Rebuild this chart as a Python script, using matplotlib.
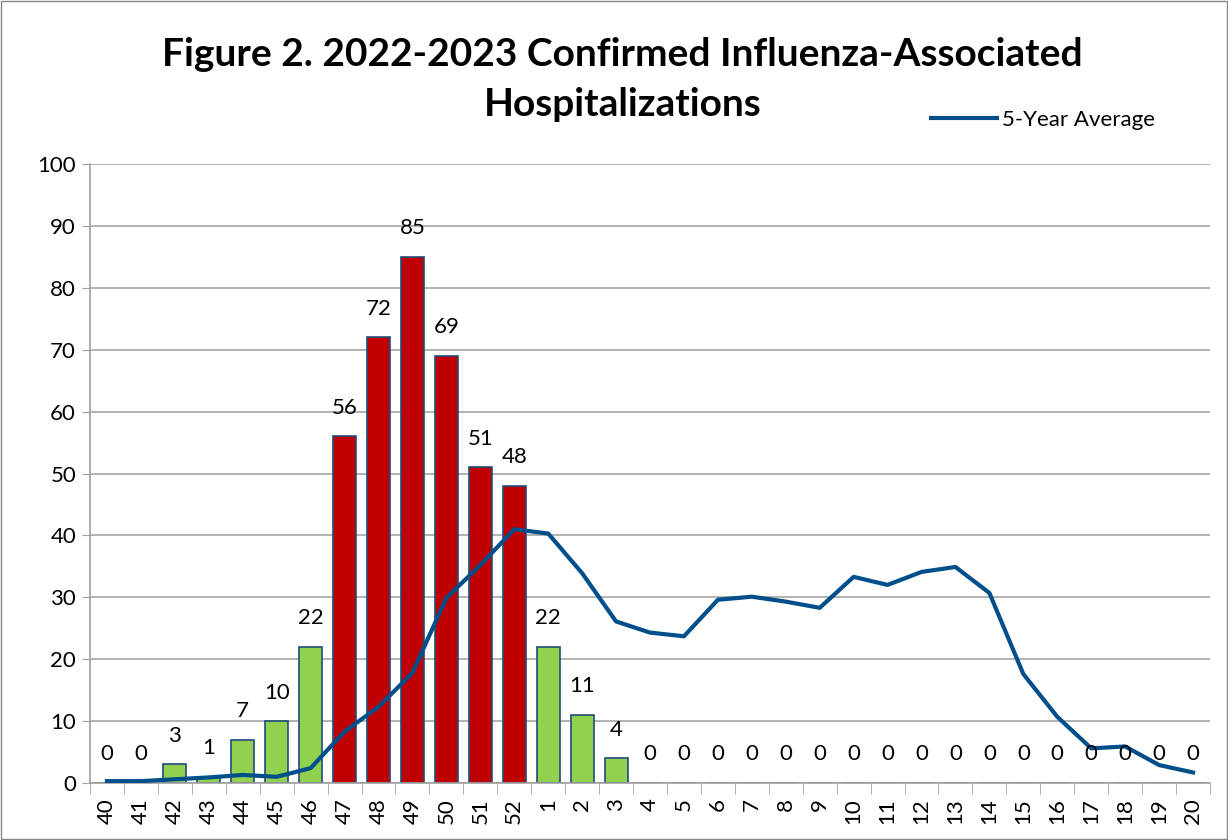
import numpy as np
import matplotlib.pyplot as plt

plt.rcParams['font.family'] = ['Lato', 'DejaVu Sans']

# Week labels and counts
weeks = ['40', '41', '42', '43', '44', '45', '46', '47', '48', '49', '50', '51', '52',
         '1', '2', '3', '4', '5', '6', '7', '8', '9', '10', '11', '12', '13', '14',
         '15', '16', '17', '18', '19', '20']
cases = [0, 0, 3, 1, 7, 10, 22, 56, 72, 85, 69, 51, 48,
         22, 11, 4, 0, 0, 0, 0, 0, 0, 0, 0, 0, 0, 0,
         0, 0, 0, 0, 0, 0]
avg5 = [0.3, 0.3, 0.6, 0.9, 1.3, 1.0, 2.4, 8.3, 12.3, 17.8, 29.9, 35.2, 41.0,
        40.3, 33.9, 26.1, 24.3, 23.7, 29.6, 30.1, 29.3, 28.3, 33.3, 32.0, 34.1, 34.9, 30.7,
        17.6, 10.7, 5.6, 5.9, 2.9, 1.7]
red_weeks = ['47', '48', '49', '50', '51', '52']

x = np.arange(len(weeks))
colors = ['#C00000' if w in red_weeks else '#92D050' for w in weeks]

fig = plt.figure(figsize=(12.28, 8.4), dpi=100)
ax = fig.add_axes([90/1228, 1 - 783/840, 1120/1228, 619/840])

ax.bar(x, cases, width=0.68, color=colors, edgecolor='#1F4E79', linewidth=1.2, zorder=2)
line, = ax.plot(x, avg5, color='#004F8B', lw=3, zorder=3, label='5-Year Average')

for xi, v in zip(x, cases):
    ax.text(xi, v + 3.0, str(v), ha='center', va='bottom', fontsize=16, zorder=4)

ax.set_xlim(-0.5, len(weeks) - 0.5)
ax.set_ylim(0, 100)
ax.set_yticks(np.arange(0, 101, 10))
ax.tick_params(axis='y', labelsize=16, length=6, color='#A0A0A0', pad=4)
ax.set_xticks(x)
ax.set_xticklabels(weeks, rotation=90, fontsize=16)
ax.tick_params(axis='x', which='major', length=0, pad=11)
ax.set_xticks(np.arange(-0.5, len(weeks), 1), minor=True)
ax.tick_params(axis='x', which='minor', length=8, color='#A0A0A0')

ax.grid(axis='y', color='#A6A6A6', lw=1.2, zorder=0)
ax.set_axisbelow(True)
for s in ['top', 'right']:
    ax.spines[s].set_visible(False)
for s in ['left', 'bottom']:
    ax.spines[s].set_color('#A0A0A0')
    ax.spines[s].set_linewidth(1.2)

# Title as two lines
fig.text(0.507, 1 - 55/840, 'Figure 2. 2022-2023 Confirmed Influenza-Associated',
         ha='center', va='center', fontsize=28, fontweight='bold')
fig.text(0.507, 1 - 105/840, 'Hospitalizations',
         ha='center', va='center', fontsize=28, fontweight='bold')

ax.legend(handles=[line], loc='center right', bbox_to_anchor=(1168/1228, 1 - 120/840),
          bbox_transform=fig.transFigure, frameon=False, fontsize=16,
          handlelength=3, handletextpad=0.2, borderpad=0.1)

fig.patches.append(plt.Rectangle((0.001, 0.001), 0.998, 0.998, transform=fig.transFigure,
                                 fill=False, edgecolor='#868686', lw=1))

plt.savefig('out.png', dpi=100)
